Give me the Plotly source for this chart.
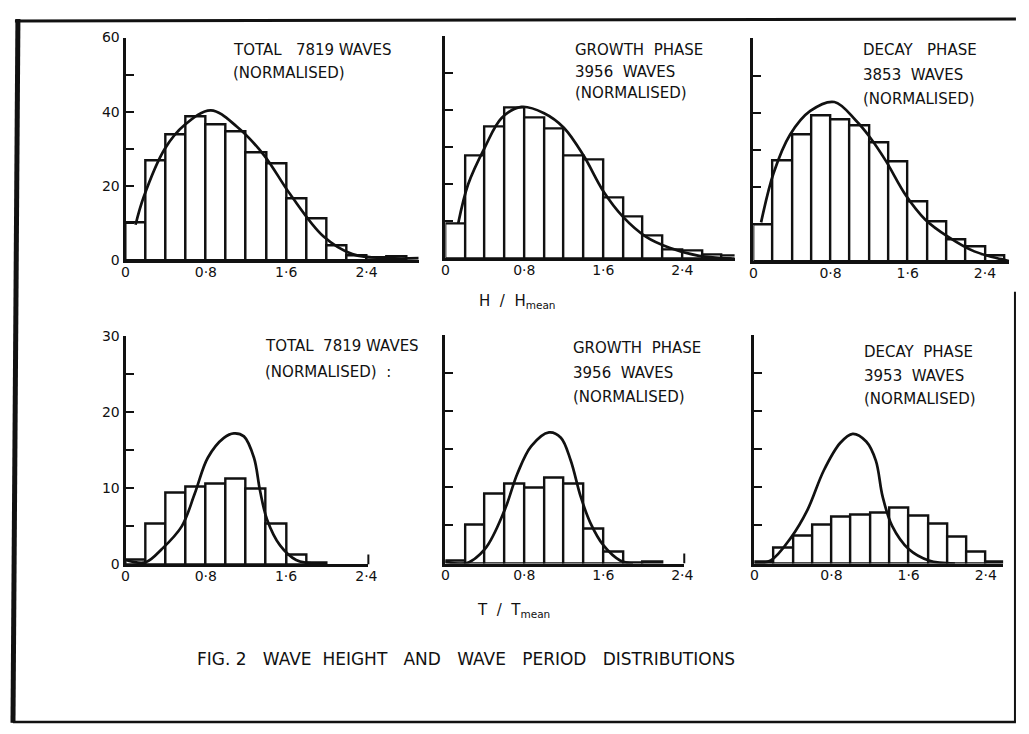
import plotly.graph_objects as go

# page is 1029x734; the html body adds an 8 px margin, so the figure is 16 px smaller
PAGE_W, PAGE_H = 1029, 734
OFF = 8
W, H = PAGE_W - 2 * OFF, PAGE_H - 2 * OFF

# ---------------- data ----------------
bin_width = 0.2

# Wave height H/Hmean histograms (percent), bins of 0.2 starting at 0
h_total_bins = [10.2, 27.0, 34.0, 38.7, 36.5, 34.8, 29.0, 26.0, 16.8, 11.3, 4.1, 1.3, 0.9, 1.0]
h_growth_bins = [9.4, 27.7, 35.4, 40.6, 37.8, 34.9, 27.6, 26.6, 16.4, 11.3, 6.1, 2.4, 2.0, 1.1, 0.9]
h_decay_bins = [10.0, 27.2, 34.1, 39.3, 38.2, 36.7, 32.1, 26.8, 16.2, 10.7, 6.0, 3.9, 1.5]

# Fitted curves (height)
h_total_curve_x = [0.10, 0.18, 0.39, 0.59, 0.85, 1.11, 1.38, 1.64, 1.97, 2.26, 2.62, 2.92]
h_total_curve_y = [9.6, 17.0, 30.0, 36.5, 40.4, 36.0, 28.3, 17.8, 6.5, 1.7, 0.6, 0.6]
h_growth_curve_x = [0.13, 0.23, 0.40, 0.57, 0.77, 1.00, 1.20, 1.40, 1.60, 1.80, 2.03, 2.27, 2.57, 2.90]
h_growth_curve_y = [9.4, 19.9, 29.9, 37.8, 40.8, 39.1, 35.2, 27.7, 18.1, 11.2, 5.9, 2.9, 0.7, 0.0]
h_decay_curve_x = [0.08, 0.21, 0.38, 0.59, 0.84, 1.06, 1.20, 1.37, 1.58, 1.78, 2.02, 2.29, 2.57, 2.66]
h_decay_curve_y = [10.5, 23.8, 34.1, 40.5, 42.9, 38.0, 33.7, 27.2, 17.8, 11.3, 6.6, 2.7, 0.6, 0.0]

# Wave period T/Tmean histograms (percent)
t_total_bins = [0.6, 5.3, 9.4, 10.2, 10.6, 11.2, 9.9, 5.3, 1.3, 0.3]
t_growth_bins = [0.4, 5.1, 9.2, 10.4, 10.0, 11.3, 10.4, 4.5, 1.6, 0.1, 0.3]
t_decay_bins = [0.2, 2.1, 3.7, 5.1, 6.2, 6.4, 6.7, 7.3, 6.3, 5.2, 3.5, 1.5, 0.2]

t_total_curve_x = [0.00, 0.20, 0.36, 0.56, 0.69, 0.82, 0.98, 1.08, 1.18, 1.28, 1.34, 1.41, 1.54, 1.70, 1.93]
t_total_curve_y = [0.6, 0.3, 2.0, 5.0, 9.3, 14.0, 16.6, 17.2, 16.8, 14.0, 9.7, 5.9, 2.5, 0.6, 0.1]
t_growth_curve_x = [0.00, 0.20, 0.40, 0.60, 0.73, 0.87, 1.05, 1.17, 1.27, 1.37, 1.47, 1.60, 1.77, 1.90]
t_growth_curve_y = [0.3, 0.0, 1.9, 7.0, 11.8, 15.4, 17.2, 16.5, 13.5, 8.8, 5.3, 2.4, 0.4, 0.0]
t_decay_curve_x = [0.00, 0.17, 0.38, 0.55, 0.72, 0.89, 1.02, 1.16, 1.26, 1.33, 1.43, 1.60, 1.81, 2.08]
t_decay_curve_y = [0.0, 0.4, 3.4, 7.0, 12.2, 15.8, 17.0, 16.0, 13.5, 8.8, 4.9, 1.9, 0.4, 0.0]

x_tick_vals = [0, 0.8, 1.6, 2.4]
x_tick_text = ["0", "0·8", "1·6", "2·4"]
h_y_labels = [0, 20, 40, 60]
h_y_step = 10
t_y_labels = [0, 10, 20, 30]
t_y_step = 5

NB = "\u00a0"
panel_labels = [
    [f"TOTAL{NB*3}7819{NB}WAVES", "(NORMALISED)"],
    [f"GROWTH{NB*2}PHASE", f"3956{NB*2}WAVES", "(NORMALISED)"],
    [f"DECAY{NB*3}PHASE", f"3853{NB*2}WAVES", "(NORMALISED)"],
    [f"TOTAL{NB*2}7819{NB}WAVES", f"(NORMALISED){NB*2}:"],
    [f"GROWTH{NB*2}PHASE", f"3956{NB*2}WAVES", "(NORMALISED)"],
    [f"DECAY{NB*2}PHASE", f"3953{NB*2}WAVES", "(NORMALISED)"],
]
title_text = (f"FIG. 2{NB*3}WAVE{NB*2}HEIGHT{NB*3}AND{NB*3}WAVE"
              f"{NB*3}PERIOD{NB*3}DISTRIBUTIONS")

# ---------------- layout geometry (reference pixels) ----------------
FONT = "DejaVu Sans"
INK = "#111111"

def px_x(v):
    return (v - OFF) / W

def px_y(v):
    return 1 - (v - OFF) / H

# (x0_px, x1_px, xmax, y_base_px, y_top_px, ymax)
panels = [
    (123, 420, 2.92, 258, 30, 60),
    (447, 740, 2.93, 256, 28, 60),
    (759, 1018, 2.65, 259, 31, 60),
    (123, 369, 2.42, 569, 335, 30),
    (447, 689, 2.42, 568, 334, 30),
    (760, 1012, 2.58, 568, 334, 30),
]

bins_list = [h_total_bins, h_growth_bins, h_decay_bins, t_total_bins, t_growth_bins, t_decay_bins]
curves = [
    (h_total_curve_x, h_total_curve_y), (h_growth_curve_x, h_growth_curve_y),
    (h_decay_curve_x, h_decay_curve_y), (t_total_curve_x, t_total_curve_y),
    (t_growth_curve_x, t_growth_curve_y), (t_decay_curve_x, t_decay_curve_y),
]

fig = go.Figure()
layout_axes = {}
for i, (x0, x1, xmax, yb, yt, ymax) in enumerate(panels):
    n = i + 1
    xa = "x" if n == 1 else f"x{n}"
    ya = "y" if n == 1 else f"y{n}"
    bins = bins_list[i]
    centers = [bin_width * (k + 0.5) for k in range(len(bins))]
    fig.add_trace(go.Bar(
        x=centers, y=bins, width=bin_width, xaxis=xa, yaxis=ya,
        marker=dict(color="white", line=dict(color=INK, width=2.4)),
        showlegend=False, hoverinfo="skip",
    ))
    cx, cy = curves[i]
    fig.add_trace(go.Scatter(
        x=cx, y=cy, mode="lines", line=dict(color=INK, width=2.7, shape="spline", smoothing=1.0),
        xaxis=xa, yaxis=ya, showlegend=False, hoverinfo="skip",
    ))
    top = i < 3
    left = i % 3 == 0
    ylabels = h_y_labels if top else t_y_labels
    ystep = h_y_step if top else t_y_step
    xkey = "xaxis" if n == 1 else f"xaxis{n}"
    ykey = "yaxis" if n == 1 else f"yaxis{n}"
    layout_axes[xkey] = dict(
        domain=[px_x(x0), px_x(x1)], range=[0, xmax], anchor=ya,
        showline=True, linecolor=INK, linewidth=3, showgrid=False, zeroline=False,
        tickvals=x_tick_vals, ticktext=x_tick_text, ticks="", ticklabelstandoff=-3,
        tickfont=dict(family=FONT, size=14, color=INK), fixedrange=True,
    )
    layout_axes[ykey] = dict(
        domain=[px_y(yb), px_y(yt)], range=[0, ymax], anchor=xa,
        showline=True, linecolor=INK, linewidth=3, showgrid=False, zeroline=False,
        tickvals=ylabels, showticklabels=left, ticks="inside", ticklen=8, tickwidth=2.2,
        tickcolor=INK, tickfont=dict(family=FONT, size=14, color=INK), fixedrange=True,
        minor=dict(dtick=ystep, ticks="inside", ticklen=8, tickwidth=2.2, tickcolor=INK,
                   showgrid=False),
    )

fig.update_layout(**layout_axes)

annotations = []
# (left x, first line y, line spacing) for each panel's label block
label_pos = [
    (230, 43, 23), (576, 43, 22), (868, 43, 25),
    (262, 346, 26), (574, 348, 25), (869, 352, 24),
]
for (lx, ly, dy), lines in zip(label_pos, panel_labels):
    for j, t in enumerate(lines):
        annotations.append(dict(
            x=px_x(lx), y=px_y(ly + dy * j), xref="paper", yref="paper",
            text=t, showarrow=False, xanchor="left", yanchor="middle",
            font=dict(family=FONT, size=15, color=INK),
        ))

annotations.append(dict(
    x=px_x(520), y=px_y(300), xref="paper", yref="paper",
    text=f"H{NB*2}/{NB*2}H<sub>mean</sub>", showarrow=False,
    xanchor="center", yanchor="middle", font=dict(family=FONT, size=15, color=INK),
))
annotations.append(dict(
    x=px_x(516), y=px_y(616), xref="paper", yref="paper",
    text=f"T{NB*2}/{NB*2}T<sub>mean</sub>", showarrow=False,
    xanchor="center", yanchor="middle", font=dict(family=FONT, size=15, color=INK),
))
annotations.append(dict(
    x=px_x(468), y=px_y(666), xref="paper", yref="paper",
    text=title_text, showarrow=False, xanchor="center", yanchor="middle",
    font=dict(family=FONT, size=17, color=INK),
))

shapes = [
    # scanned frame
    dict(type="line", xref="paper", yref="paper", x0=px_x(11), y0=px_y(13), x1=px_x(1025), y1=px_y(11),
         line=dict(color=INK, width=3)),
    dict(type="line", xref="paper", yref="paper", x0=px_x(14), y0=px_y(11), x1=px_x(9), y1=px_y(731),
         line=dict(color=INK, width=5)),
    dict(type="line", xref="paper", yref="paper", x0=px_x(9), y0=px_y(730), x1=px_x(1025), y1=px_y(730),
         line=dict(color=INK, width=2.5)),
    dict(type="line", xref="paper", yref="paper", x0=px_x(1024), y0=px_y(290), x1=px_x(1024), y1=px_y(730),
         line=dict(color=INK, width=2)),
]
# upturned end ticks on the lower-left and lower-middle x axes
for n in (4, 5):
    shapes.append(dict(type="line", xref=f"x{n} domain", yref=f"y{n}", x0=1, x1=1, y0=0, y1=1.3,
                       line=dict(color=INK, width=2)))

fig.update_layout(
    width=W, height=H, margin=dict(l=0, r=0, t=0, b=0),
    paper_bgcolor="white", plot_bgcolor="rgba(0,0,0,0)",
    annotations=annotations, shapes=shapes, bargap=0,
)

fig.write_html("out.html")
